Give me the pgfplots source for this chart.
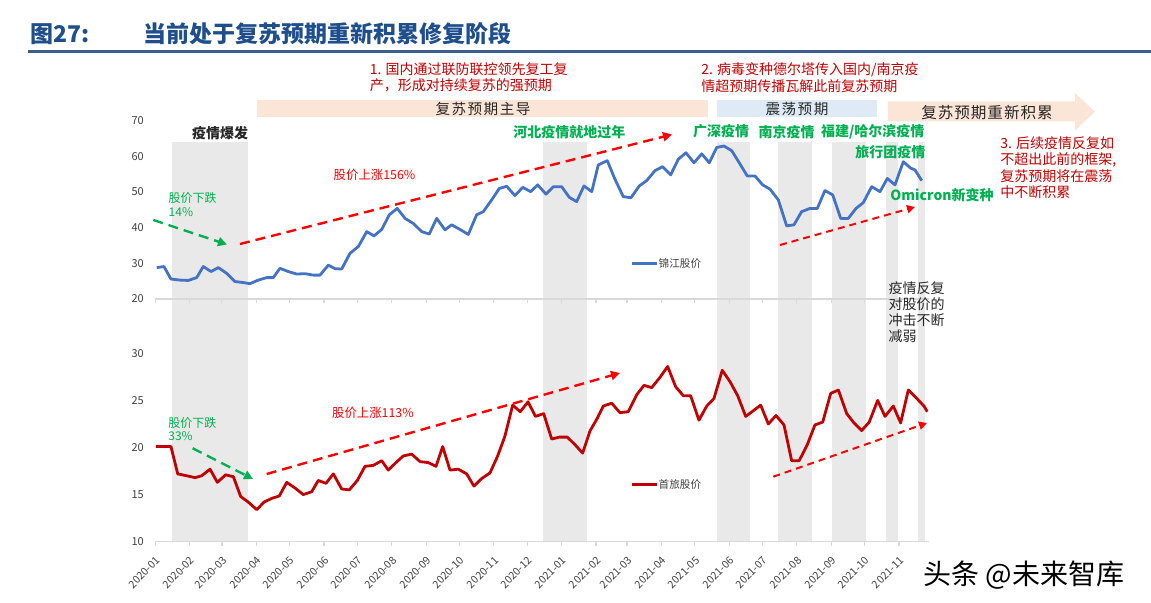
\documentclass[border=0pt]{standalone}
\usepackage{fontspec}
\setmainfont{Noto Sans CJK SC}
\usepackage{pgfplots}
\pgfplotsset{compat=1.18}
\usetikzlibrary{arrows.meta}
\definecolor{jjblue}{HTML}{4472C4}
\definecolor{sred}{HTML}{C00000}
\definecolor{band}{HTML}{E9E9E9}
\definecolor{axgray}{HTML}{D9D9D9}
\definecolor{tickgray}{HTML}{404040}
\definecolor{titleblue}{HTML}{1F4E8C}
\definecolor{ruleblue}{HTML}{3C5F8F}
\definecolor{peach}{HTML}{FBE5D6}
\definecolor{lblue}{HTML}{DEEBF7}
\definecolor{annred}{HTML}{C00000}
\definecolor{brightred}{HTML}{FF0000}
\definecolor{gr}{HTML}{00B050}
\definecolor{dark}{HTML}{262626}

\pgfplotsset{
  chartaxis/.style={
    scale only axis, width=386.65pt, xmin=0, xmax=696.7,
    xtick={0,31,60,91,121,152,182,213,244,274,305,335,366,397,425,456,486,517,547,578,609,639,670},
    axis x line*=bottom, axis y line*=left,
    y axis line style={draw=none},
    x axis line style={draw=axgray, line width=0.7pt},
    xtick style={draw=axgray, line width=0.6pt},
    ytick style={draw=none},
    tick align=outside, major tick length=2.2pt,
    yticklabel style={font=\fontsize{5.5}{6}\selectfont, text=tickgray},
    xticklabel style={font=\fontsize{5.3}{6}\selectfont, text=tickgray, rotate=45, anchor=north east},
    /pgf/number format/assume math mode=true,
    clip=false
  }
}

\begin{document}
\begin{tikzpicture}[x=0.5pt,y=-0.5pt]
\path[use as bounding box] (0,0) rectangle (1151,603);
\coordinate (bandSW) at (155.3,542.4);
\coordinate (topSW) at (155.3,299);
\coordinate (botSW) at (155.3,541.7);

% title
\node[anchor=west, inner sep=0, text=titleblue, font=\fontsize{11.5}{12}\selectfont\bfseries] at (30,34) {图27:};
\node[anchor=west, inner sep=0, text=titleblue, font=\fontsize{11.5}{12}\selectfont\bfseries] at (143,34) {当前处于复苏预期重新积累修复阶段};
\draw[ruleblue, line width=1.4pt] (28,51.7) -- (1151,51.7);

% shaded bands
\begin{axis}[at={(bandSW)}, anchor=south west, scale only axis, width=386.65pt, height=200.2pt,
  xmin=0, xmax=696.7, ymin=0, ymax=1, hide axis]
\addplot[fill=band, draw=none] coordinates {(15.3,0)(15.3,1)(83.8,1)(83.8,0)} -- cycle;
\addplot[fill=band, draw=none] coordinates {(349.5,0)(349.5,1)(389.2,1)(389.2,0)} -- cycle;
\addplot[fill=band, draw=none] coordinates {(506.3,0)(506.3,1)(535.8,1)(535.8,0)} -- cycle;
\addplot[fill=band, draw=none] coordinates {(561.3,0)(561.3,1)(591.4,1)(591.4,0)} -- cycle;
\addplot[fill=band, draw=none] coordinates {(609.9,0)(609.9,1)(640,1)(640,0)} -- cycle;
\addplot[fill=band, draw=none] coordinates {(658,0)(658,1)(669.4,1)(669.4,0)} -- cycle;
\addplot[fill=band, draw=none] coordinates {(687.4,0)(687.4,1)(693.4,1)(693.4,0)} -- cycle;
\end{axis}

% top chart
\begin{axis}[chartaxis, at={(topSW)}, anchor=south west, height=89.15pt,
  ymin=20, ymax=70, ytick={20,30,...,70}, xticklabels={}]
\addplot[jjblue, line width=1.4pt, line join=round] coordinates {
(1.3,28.8)(7.8,29.1)(14.1,25.6)(22.3,25.3)(29.7,25.2)(37.3,26)(43.2,29.1)(50.2,27.7)
(56.8,28.8)(64.3,27.2)(71.8,24.9)(79.3,24.6)(85.3,24.3)(92.8,25.3)(100.4,26)(106.3,26)
(112.3,28.6)(119.8,27.7)(127.4,27)(134.9,27.1)(142.3,26.7)(148.4,26.7)(155.9,29.5)
(161.9,28.5)(167.9,28.4)(175.4,32.8)(182.9,34.7)(190.5,38.9)(197,37.7)(204,39.5)
(210.8,43.6)(218,45.4)(225,42.6)(232.4,41.2)(240,38.9)(246.8,38.2)(253.5,42.6)
(261,39.4)(267,40.8)(274.5,39.5)(282,38.1)(289.5,43.6)(295.5,44.5)(303.1,47.8)
(309.9,51)(316.6,51.6)(324,49)(331,51.3)(338.2,50.1)(344.5,52)(352,49.4)(358.6,51.5)
(366.1,51.5)(373,48.5)(379.6,47.3)(386.2,51.7)(393.2,50.1)(399.1,57.6)(407.2,58.8)
(414.1,53.6)(421.6,48.7)(428.6,48.4)(436,51.7)(442.7,53.2)(450.2,56)(457.1,57.1)
(464.3,54.8)(471.2,59.2)(478.1,61)(485.3,58.2)(492.3,60.7)(499.1,58.2)(505.8,62.5)
(512.3,62.9)(519.3,61.6)(526.1,58.2)(533.3,54.5)(540.3,54.5)(547.2,52)(553.8,50.8)
(561.3,47.8)(568.8,40.5)(575.4,40.8)(582.3,44.5)(589.8,45.4)(596.4,45.4)(603.3,50.4)
(610.3,49.2)(617.5,42.6)(624.3,42.6)(631.3,45.4)(637.8,47)(645.4,51.5)(652.9,50.1)
(659.5,53.8)(666.4,52)(673.9,58.5)(680.5,56.7)(684.4,56.2)(690.5,53.2)
};
\end{axis}

% bottom chart
\begin{axis}[chartaxis, at={(botSW)}, anchor=south west, height=94.2pt,
  ymin=10, ymax=30, ytick={10,15,...,30},
  xticklabels={2020-01,2020-02,2020-03,2020-04,2020-05,2020-06,2020-07,2020-08,2020-09,2020-10,2020-11,2020-12,2021-01,2021-02,2021-03,2021-04,2021-05,2021-06,2021-07,2021-08,2021-09,2021-10,2021-11}]
\addplot[sred, line width=1.4pt, line join=round] coordinates {
(0.6,20.1)(7.2,20.1)(14.1,20.1)(20.2,17.2)(28.3,17)(35.8,16.8)(41.8,17)(49.3,17.7)
(55.9,16.3)(63.4,17.1)(70.3,16.9)(76.9,14.8)(83.8,14.2)(91.4,13.4)(97.9,14.2)(104.9,14.6)
(111.7,14.85)(118.4,16.3)(125.9,15.7)(133.3,15)(140.9,15.3)(146.8,16.5)(153.8,16.2)
(160.4,17.2)(167.9,15.6)(174.8,15.5)(182,16.5)(188.9,18)(196.4,18.1)(204,18.6)
(209.9,17.6)(216.8,18.4)(223.4,19.1)(231,19.3)(238.5,18.5)(245.9,18.4)(252.9,18)
(258.9,20.1)(265.5,17.6)(273,17.7)(280.5,17.2)(287.1,15.9)(294,16.7)(301.5,17.3)
(308.1,19)(315,21.2)(322,24.5)(328.8,23.8)(335.8,24.85)(342.5,23.3)(349.9,23.6)
(357.1,20.9)(364,21.1)(371.2,21.1)(378.1,20.3)(385,19.4)(391.6,21.75)(398.2,23.1)
(403.6,24.4)(411.2,24.7)(418.6,23.7)(426.1,23.8)(433.7,25.6)(440.3,26.6)(447.2,26.35)
(454.7,27.45)(461.6,28.6)(468.8,26.45)(475.7,25.5)(482.3,25.5)(489.8,22.9)(496.8,24.4)
(503.3,25.2)(510.8,28.2)(517.7,27)(524.7,25.5)(531.9,23.3)(538.7,23.9)(545.4,24.5)
(552.3,22.5)(559.2,23.4)(566.4,22.4)(573.3,18.6)(580.1,18.6)(587.4,20.3)(594.3,22.4)
(601.3,22.7)(608.5,25.75)(615.4,26.1)(622.9,23.6)(629.5,22.6)(636.4,21.8)(643.2,22.7)
(650.8,25)(657.4,23.3)(664.9,24.4)(671.5,22.6)(678.4,26.1)(685.3,25.3)(692.5,24.4)(695.5,23.8)
};
\end{axis}

% phase bars
\fill[peach] (256.7,100) rectangle (708.3,117.5);
\fill[lblue] (716.7,100) rectangle (876.7,117.5);
\fill[peach] (888,101.5) -- (1075,101.5) -- (1075,93) -- (1095,111.7) -- (1075,130.5) -- (1075,121.5) -- (888,121.5) -- cycle;
\node[inner sep=0, text=dark, font=\fontsize{7.3}{8}\selectfont\addfontfeature{LetterSpace=10}] at (483,109) {复苏预期主导};
\node[inner sep=0, text=dark, font=\fontsize{7.3}{8}\selectfont\addfontfeature{LetterSpace=10}] at (797,109) {震荡预期};
\node[inner sep=0, text=dark, font=\fontsize{7.8}{8}\selectfont\addfontfeature{LetterSpace=6}] at (987,113) {复苏预期重新积累};

% red annotations (top)
\node[anchor=north west, inner sep=0, align=left, text=annred, font=\fontsize{7}{8}\selectfont] at (369.5,62) {1. 国内通过联防联控领先复工复\\产，形成对持续复苏的强预期};
\node[anchor=north west, inner sep=0, align=left, text=annred, font=\fontsize{7}{8.5}\selectfont] at (701,62) {2. 病毒变种德尔塔传入国内/南京疫\\情超预期传播瓦解此前复苏预期};
\node[anchor=north west, inner sep=0, align=left, text=annred, font=\fontsize{7}{8.2}\selectfont] at (1000,136) {3. 后续疫情反复如\\不超出此前的框架,\\复苏预期将在震荡\\中不断积累};
\node[anchor=north west, inner sep=0, align=left, text=dark, font=\fontsize{7}{8.1}\selectfont] at (888.3,281) {疫情反复\\对股价的\\冲击不断\\减弱};

% event labels
\node[anchor=west, inner sep=0, text=dark, font=\fontsize{7}{8}\selectfont\bfseries] at (191.7,133.3) {疫情爆发};
\node[anchor=west, inner sep=0, text=gr, font=\fontsize{7}{8}\selectfont\bfseries] at (513,131.7) {河北疫情就地过年};
\node[anchor=west, inner sep=0, text=gr, font=\fontsize{7}{8}\selectfont\bfseries] at (692.7,131.7) {广深疫情};
\node[anchor=west, inner sep=0, text=gr, font=\fontsize{7}{8}\selectfont\bfseries] at (758.3,131.7) {南京疫情};
\node[anchor=west, inner sep=0, text=gr, font=\fontsize{7}{8}\selectfont\bfseries] at (820.7,131.7) {福建/哈尔滨疫情};
\node[anchor=west, inner sep=0, text=gr, font=\fontsize{7}{8}\selectfont\bfseries] at (855,152.3) {旅行团疫情};
\node[anchor=west, inner sep=0, text=gr, font=\fontsize{7}{8}\selectfont\bfseries] at (890,195) {Omicron新变种};

% change annotations
\node[anchor=north west, inner sep=0, align=left, text=gr, font=\fontsize{6}{7}\selectfont] at (168.3,192) {股价下跌\\14\%};
\node[anchor=north west, inner sep=0, align=left, text=gr, font=\fontsize{6}{6.5}\selectfont] at (168,417) {股价下跌\\33\%};
\node[anchor=west, inner sep=0, text=brightred, font=\fontsize{6.2}{7}\selectfont] at (333.3,175) {股价上涨156\%};
\node[anchor=west, inner sep=0, text=brightred, font=\fontsize{6.2}{7}\selectfont] at (331.7,413.3) {股价上涨113\%};

% trend arrows
\draw[gr, line width=1.2pt, dash pattern=on 5pt off 3pt, -{Triangle[length=4.5pt,width=4.5pt]}] (153.3,220) -- (227,244.5);
\draw[brightred, line width=1.2pt, dash pattern=on 5pt off 3pt, -{Triangle[length=4.5pt,width=4.5pt]}] (240,244) -- (672,134.5);
\draw[brightred, line width=1pt, dash pattern=on 3.5pt off 2.5pt, -{Triangle[length=4pt,width=4pt]}] (780,245) -- (915,207);
\draw[gr, line width=1.2pt, dash pattern=on 5pt off 3pt, -{Triangle[length=4.5pt,width=4.5pt]}] (192.7,448.3) -- (253,479);
\draw[brightred, line width=1.2pt, dash pattern=on 5pt off 3pt, -{Triangle[length=4.5pt,width=4.5pt]}] (266.7,474) -- (620,373);
\draw[brightred, line width=1pt, dash pattern=on 3.5pt off 2.5pt, -{Triangle[length=4pt,width=4pt]}] (773.3,476.7) -- (927,423);

% legends
\draw[jjblue, line width=1.4pt] (631.7,263.3) -- (656.7,263.3);
\node[anchor=west, inner sep=0, text=tickgray, font=\fontsize{5.3}{6}\selectfont] at (658.3,263.3) {锦江股价};
\draw[sred, line width=1.4pt] (631.7,484.3) -- (656.7,484.3);
\node[anchor=west, inner sep=0, text=tickgray, font=\fontsize{5.3}{6}\selectfont] at (658.3,484.3) {首旅股价};

% watermark
\node[anchor=west, inner sep=0, text=black, font=\fontsize{14}{15}\selectfont] at (923,575) {头条 @未来智库};
\end{tikzpicture}
\end{document}
